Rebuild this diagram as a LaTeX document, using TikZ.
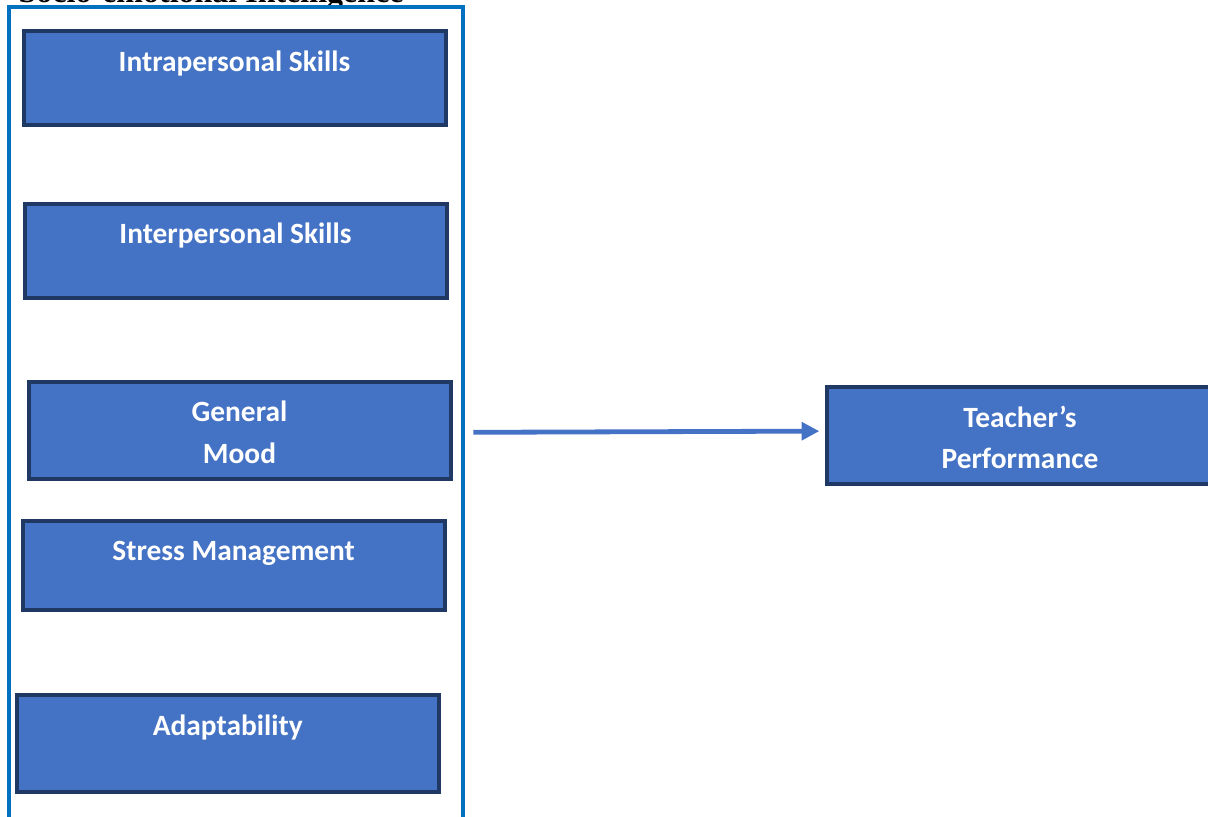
\documentclass[tikz,border=0pt]{standalone}
\usepackage{fontspec}
\setmainfont{Liberation Serif}
\newfontfamily\calibri{Carlito}
\usetikzlibrary{positioning,arrows.meta}
\definecolor{boxblue}{HTML}{4472C4}
\definecolor{boxedge}{HTML}{203864}
\definecolor{groupblue}{HTML}{0070C0}

\begin{document}
\begin{tikzpicture}[x=0.5pt,y=-0.5pt,
    factor/.style={draw=boxedge, fill=boxblue, line width=2pt, text=white,
      font=\calibri\bfseries\fontsize{14.7}{20.75}\selectfont, align=center,
      minimum width=211pt, inner sep=0pt, text height=20pt, anchor=north},
    twoline/.style={text height=40.75pt, text depth=7.75pt},
    groupline/.style={draw=groupblue, line width=1.9pt},
    link/.style={draw=boxblue, line width=2.4pt, -{Triangle[length=8.8pt,width=8.7pt]}}]
    \useasboundingbox (0,0) rectangle (1208,816);
    \node (title) [anchor=base west, inner sep=0pt, font=\bfseries\fontsize{16}{19}\selectfont] at (18.3,2) {Socio-emotional Intelligence};
    \draw [groupline] (9.3,7.2) rectangle (463.3,830);
    % the five factors
    \node (intra) [factor, text depth=27pt] at (234.5,29) {Intrapersonal Skills};
    \node (inter) [factor, text depth=27pt] at (235.5,201.5) {Interpersonal Skills};
    \node (mood) [factor, twoline] at (239.5,379.5) {General\\Mood};
    \node (stress) [factor, text depth=24.8pt] at (233.7,518.5) {Stress Management};
    \node (adapt) [factor, text depth=28.5pt] at (227.7,693) {Adaptability};
    % outcome
    \node (perf) [factor, twoline, anchor=north west, minimum width=193.3pt] at (824.7,385) {Teacher’s\\Performance};
    \coordinate (out) at (473.3,432.3);
    \draw [link, shorten >=2.7pt] (out) -- ([yshift=2.2pt]perf.west);
\end{tikzpicture}
\end{document}
